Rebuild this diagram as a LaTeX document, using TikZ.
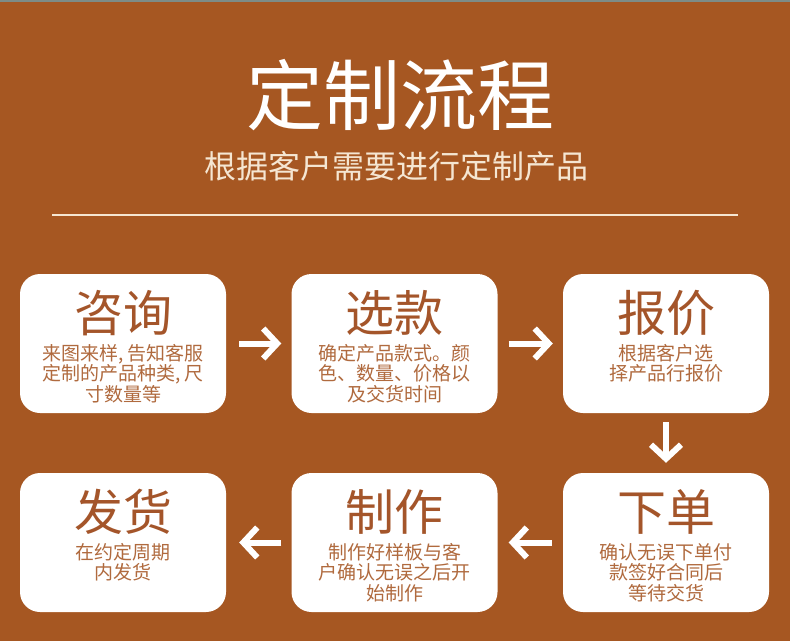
\documentclass[tikz,border=0pt]{standalone}
\usepackage{fontspec}
\setmainfont{Noto Sans CJK SC}
\usetikzlibrary{arrows.meta}
\definecolor{bg}{HTML}{A65722}
\definecolor{topstrip}{HTML}{7D8C87}
\definecolor{cream}{HTML}{F5E6D2}
\definecolor{boxtitle}{HTML}{A4552A}
\definecolor{boxdesc}{HTML}{B06A3E}
\tikzset{
  card/.style={fill=white, draw=none, rounded corners=20pt, minimum width=206pt, minimum height=139pt, inner sep=0pt},
  cardtitle/.style={text=boxtitle, font=\fontsize{49}{52}\selectfont, inner sep=0pt},
  carddesc/.style={text=boxdesc, font=\fontsize{19}{20.5}\selectfont, align=center, anchor=north, inner sep=0pt},
  flowarrow/.style={draw=white, line width=6pt, -{Straight Barb[length=14pt,width=30pt]}, shorten <=11pt, shorten >=11pt}
}
\begin{document}
\begin{tikzpicture}[x=1pt,y=-1pt]
\fill[bg] (0,0) rectangle (790,641);
\useasboundingbox (0,0) rectangle (790,641);
\fill[topstrip] (0,0) rectangle (790,2);
\node[text=white, font=\fontsize{77}{82}\selectfont, inner sep=0pt] (title) at (400,95) {定制流程};
\node[text=cream, font=\fontsize{32}{35}\selectfont, inner sep=0pt] (subtitle) at (396,166) {根据客户需要进行定制产品};
\coordinate (lineL) at (52,215);
\coordinate (lineR) at (738,215);
\draw[cream, line width=1.2pt] (lineL) -- (lineR);
% cards
\node[card] (b1) at (123,343.5) {};
\node[card] (b2) at (394.5,343.5) {};
\node[card] (b3) at (666,343.5) {};
\node[card] (b4) at (123,542.5) {};
\node[card] (b5) at (394.5,542.5) {};
\node[card] (b6) at (666,542.5) {};
% titles
\node[cardtitle] (t1) at (123,313) {咨询};
\node[cardtitle] (t2) at (394.5,313) {选款};
\node[cardtitle] (t3) at (666,313) {报价};
\node[cardtitle] (t4) at (123,512) {发货};
\node[cardtitle] (t5) at (394.5,512) {制作};
\node[cardtitle] (t6) at (666,512) {下单};
% descriptions
\node[carddesc] (d1) at (123,344) {来图来样, 告知客服\\定制的产品种类, 尺\\寸数量等};
\node[carddesc] (d2) at (394.5,344) {确定产品款式。颜\\色、数量、价格以\\及交货时间};
\node[carddesc] (d3) at (666,344) {根据客户选\\择产品行报价};
\node[carddesc] (d4) at (123,543) {在约定周期\\内发货};
\node[carddesc] (d5) at (394.5,543) {制作好样板与客\\户确认无误之后开\\始制作};
\node[carddesc] (d6) at (666,543) {确认无误下单付\\款签好合同后\\等待交货};
% arrows
\draw[flowarrow, shorten <=13pt, shorten >=10pt] (b1) -- (b2);
\draw[flowarrow, shorten <=11pt, shorten >=10pt] (b2) -- (b3);
\draw[flowarrow, shorten <=9pt, shorten >=10pt] (b3) -- (b6);
\draw[flowarrow, shorten <=11pt, shorten >=11pt] (b6) -- (b5);
\draw[flowarrow, shorten <=10pt, shorten >=13pt] (b5) -- (b4);
\end{tikzpicture}
\end{document}
